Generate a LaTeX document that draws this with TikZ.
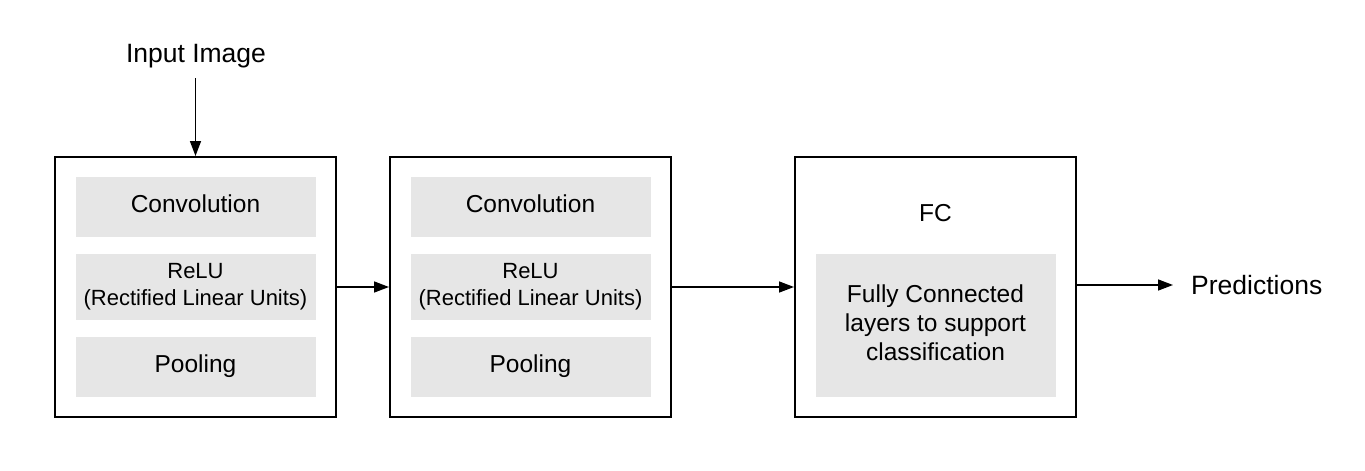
\documentclass[tikz,border=0pt]{standalone}
\usepackage{fontspec}
\setmainfont{Liberation Sans}
\usetikzlibrary{arrows.meta}
\definecolor{layergray}{HTML}{E6E6E6}
\tikzset{
	stage/.style = {draw, line width = 2pt, minimum width = 281pt, minimum height = 260pt, inner sep = 0pt},
	layer/.style = {fill = layergray, minimum width = 240pt, inner sep = 0pt, align = center, font = \fontsize{24.5}{29}\selectfont},
	small/.style = {font = \fontsize{22}{27}\selectfont},
	flow/.style = {-{Triangle[length = 15pt, width = 11pt]}, line width = 1.5pt}
}

\begin{document}
\begin{tikzpicture}[x=1pt,y=-1pt]
		\useasboundingbox (0, 0) rectangle (1365, 471);
		%%%%%%%%%%%%%
		\node[stage] (s1) at (195.5, 287) {};
		\node[stage] (s2) at (530.5, 287) {};
		\node[stage] (s3) at (935.5, 287) {};
		%%%%%%%%%%%%%
		\node[layer, minimum height = 60pt, text depth = 6pt] (conva) at (195.5, 207) {Convolution};
		\node[layer, minimum height = 66pt, small] (relua) at (195.5, 287) {ReLU\\(Rectified Linear Units)};
		\node[layer, minimum height = 60pt, text depth = 7pt] (poola) at (195.5, 367) {Pooling};
		\node[layer, minimum height = 60pt, text depth = 6pt] (convb) at (530.5, 207) {Convolution};
		\node[layer, minimum height = 66pt, small] (relub) at (530.5, 287) {ReLU\\(Rectified Linear Units)};
		\node[layer, minimum height = 60pt, text depth = 7pt] (poolb) at (530.5, 367) {Pooling};
		\node[font = \fontsize{24.5}{29}\selectfont] (fc) at (935.5, 213) {FC};
		\node[layer, minimum height = 143pt, text depth = 6pt] (dense) at (935.5, 325.5) {Fully Connected\\layers to support\\classification};
		%%%%%%%%%%%%%
		\node[font = \fontsize{26.5}{31}\selectfont, inner xsep = 4pt, inner ysep = 10pt] (img) at (196, 56) {Input Image};
		\node[font = \fontsize{26.5}{31}\selectfont, anchor = west, inner xsep = 18pt, inner ysep = 0pt] (pred) at (1173, 285) {Predictions};
		%%%%%%%%%%%%%
		\draw[flow] (img.south -| s1.north) to (s1.north);
		\draw[flow] (s1.east) to (s2.west);
		\draw[flow] (s2.east) to (s3.west);
		\draw[flow] (s3.east |- pred.west) to (pred.west);
	\end{tikzpicture}
\end{document}
